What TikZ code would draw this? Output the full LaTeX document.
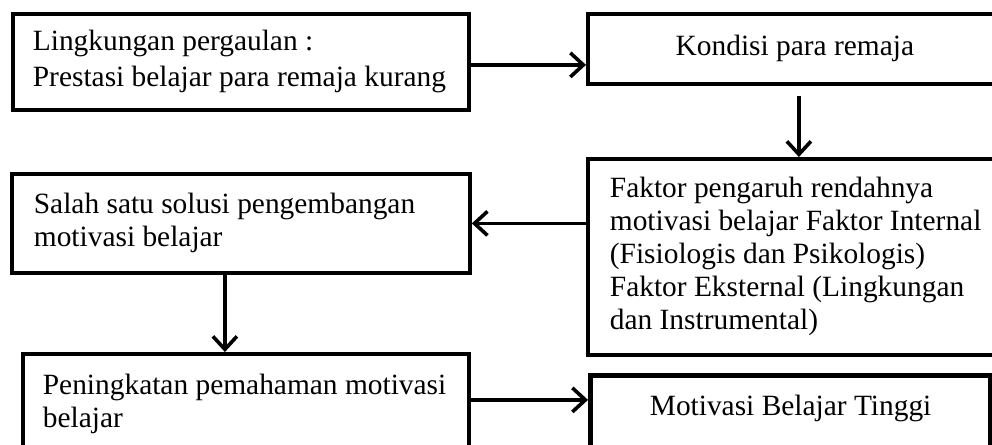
\documentclass[tikz,border=0pt]{standalone}
\usepackage{fontspec}
\setmainfont{Liberation Serif}
\usetikzlibrary{arrows.meta}
\tikzset{
  box/.style    = {draw, line width=1.9pt, rectangle, anchor=north west, inner xsep=10pt, inner ysep=0pt, align=left,
                   font=\fontsize{14.7}{16.5}\selectfont, execute at begin node={\spaceskip=0pt\xspaceskip=0pt}},
  goal/.style   = {box, line width=2.6pt, align=center, text height=20pt, text depth=23.5pt},
  link/.style   = {->, line width=1.8pt}
}

\begin{document}
\begin{tikzpicture}[x=0.5pt, y=-0.5pt, >={Straight Barb[length=6.5pt, width=12pt]}]
\useasboundingbox (0,0) rectangle (992,445);
\clip (0,0) rectangle (992,445);

% Top row
\draw node [box, text width=208pt, minimum height=48pt] (env) at (11,12) {Lingkungan pergaulan :\\[1.5pt]Prestasi belajar para remaja kurang};
\draw node [box, align=center, minimum width=207pt, minimum height=35pt] (cond) at (586,12) {Kondisi para remaja};

% Middle row
\draw node [box, inner xsep=11pt, text width=189pt, minimum height=98pt] (factor) at (586,157) {Faktor pengaruh rendahnya\\motivasi belajar Faktor Internal\\(Fisiologis dan Psikologis)\\Faktor Eksternal (Lingkungan\\dan Instrumental)};
\draw node [box, inner xsep=11pt, text width=207pt, minimum height=49.5pt] (solution) at (10,172) {Salah satu solusi pengembangan\\motivasi belajar};

% Bottom row
\draw node [box, text width=203pt, minimum height=50pt] (improve) at (21,352) {Peningkatan pemahaman motivasi\\belajar};
\draw node [goal, minimum width=200pt] (result) at (588,373) {Motivasi Belajar Tinggi};

% Connections
\draw [link] ([yshift=-1.5pt]env.east) -- ([yshift=-1.5pt]env.east -| cond.west);
\draw [link, shorten <=5pt] ([xshift=2pt]cond.south) -- ([xshift=2pt]cond.south |- factor.north);
\draw [link] (factor.west |- solution.east) -- (solution.east);
\draw [link] ([xshift=-8pt]solution.south) -- ([xshift=-8pt]solution.south |- improve.north);
\draw [link] ([yshift=2pt]improve.east) -- ([yshift=2pt]improve.east -| result.west);

\end{tikzpicture}
\end{document}
